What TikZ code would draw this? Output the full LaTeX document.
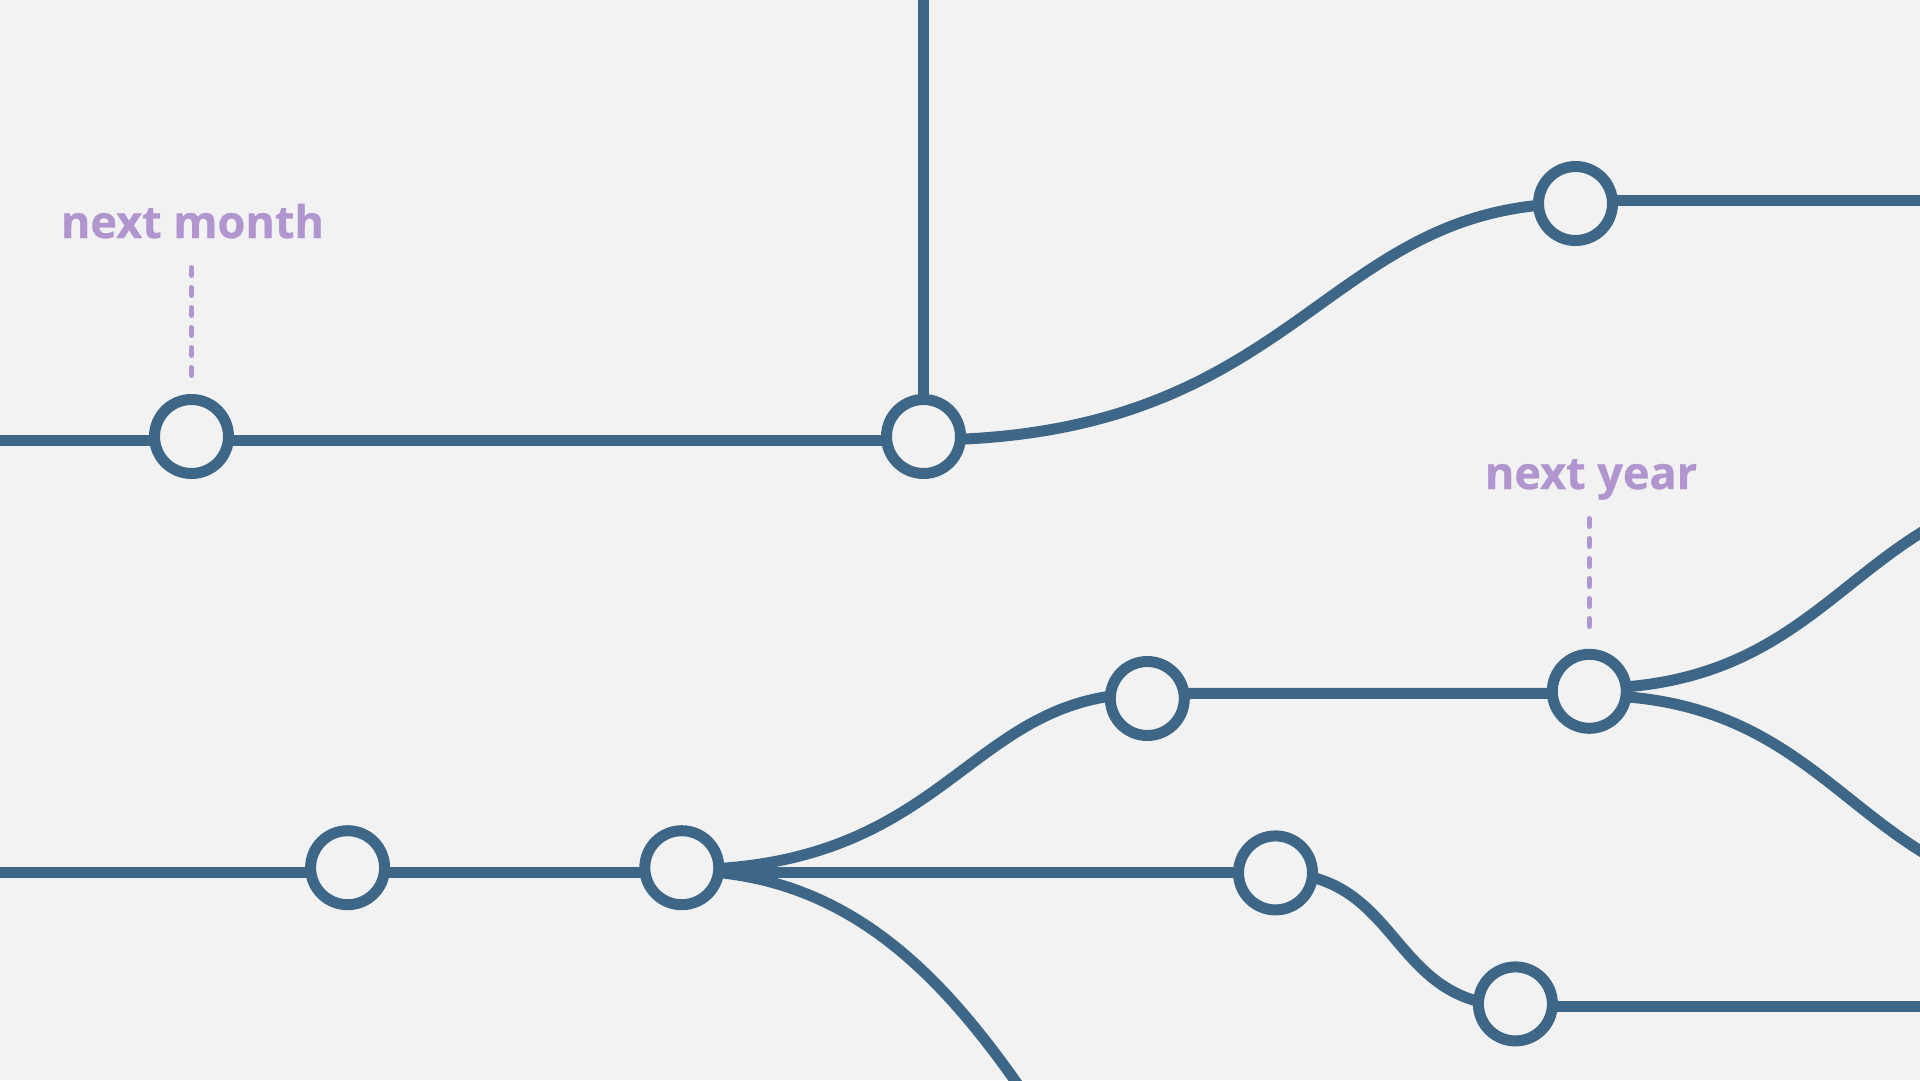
\documentclass[tikz,border=0pt]{standalone}
\usepackage{fontspec}
\setmainfont{Open Sans}
\newfontfamily\labfont{Open Sans}[BoldFeatures={FakeBold=0.6}]
\usetikzlibrary{backgrounds}
\definecolor{bgc}{HTML}{F2F2F2}
\definecolor{linec}{HTML}{3D6687}
\definecolor{labc}{HTML}{B195CF}
\tikzset{
  dot/.style={circle, draw=linec, fill=bgc, line width=11pt, minimum size=74pt, inner sep=0pt},
  branch/.style={draw=linec, line width=11pt},
  guide/.style={draw=labc, line width=5pt, line cap=round, dash pattern=on 8pt off 12pt},
  lab/.style={text=labc, font=\labfont\fontsize{45}{52}\selectfont\bfseries, inner sep=0pt, anchor=base},
}
\begin{document}
\begin{tikzpicture}[x=1pt,y=-1pt]
\useasboundingbox (0,0) rectangle (1920,1080);
% nodes
\node[dot] (A) at (191.5,436.5) {};
\node[dot] (B) at (923.5,436.5) {};
\node[dot] (C) at (1575.5,203.5) {};
\node[dot] (D) at (1147.3,698.5) {};
\node[dot] (E) at (1589.3,691.3) {};
\node[dot] (F) at (347.6,867.7) {};
\node[dot] (G) at (681.8,867.7) {};
\node[dot] (H) at (1275.5,872.9) {};
\node[dot] (I) at (1515.4,1003.9) {};
% labels
\node[lab] (mlab) at (192.5,238) {next month};
\node[lab] (ylab) at (1591,489) {next year};
% helper coordinates
\coordinate (L1) at (-20,440);
\coordinate (T) at (923.5,-20);
\coordinate (R1) at (1960,200);
\coordinate (L3) at (-20,872);
\coordinate (R4) at (1960,1006);
\coordinate (EU) at (2111,481);
\coordinate (ED) at (2111,903);
\coordinate (GD) at (1481,1490);
\coordinate (m1) at (191.5,267.5);
\coordinate (m2) at (191.5,375.5);
\coordinate (y1) at (1589.3,518.5);
\coordinate (y2) at (1589.3,626.5);
\begin{pgfonlayer}{background}
\fill[bgc] (0,0) rectangle (1920,1080);
% top branch
\draw[branch] (L1) -- (L1 -| B);
\draw[branch] (B.center) -- (T);
\draw[branch] (L1 -| B) .. controls +(377,0) and +(-255,0.5) .. (C.center);
\draw[branch] (R1 -| C) -- (R1);
% middle
\draw[branch] (L3) -- (L3 -| H);
\draw[branch] ([yshift=-2pt]G.center) .. controls +(269,0) and +(-182,0) .. ([yshift=5pt]D.center);
\draw[branch] ([yshift=5pt]D.center) -- ([yshift=-2pt]E.center);
\draw[branch] ([yshift=3pt]E.center) .. controls +(261,0) and +(-261,0) .. (EU);
\draw[branch] ([yshift=-4pt]E.center) .. controls +(261,0) and +(-261,0) .. (ED);
\draw[branch] ([yshift=-3pt]G.center) .. controls +(400,0) and +(-400,0) .. (GD);
\draw[branch] (H.center) .. controls +(127,0) and +(-127,0) .. ([yshift=-2pt]I.center);
\draw[branch] (R4 -| I) -- (R4);
\end{pgfonlayer}
% guides
\draw[guide] (m1) -- (m2);
\draw[guide] (y1) -- (y2);
\end{tikzpicture}
\end{document}
